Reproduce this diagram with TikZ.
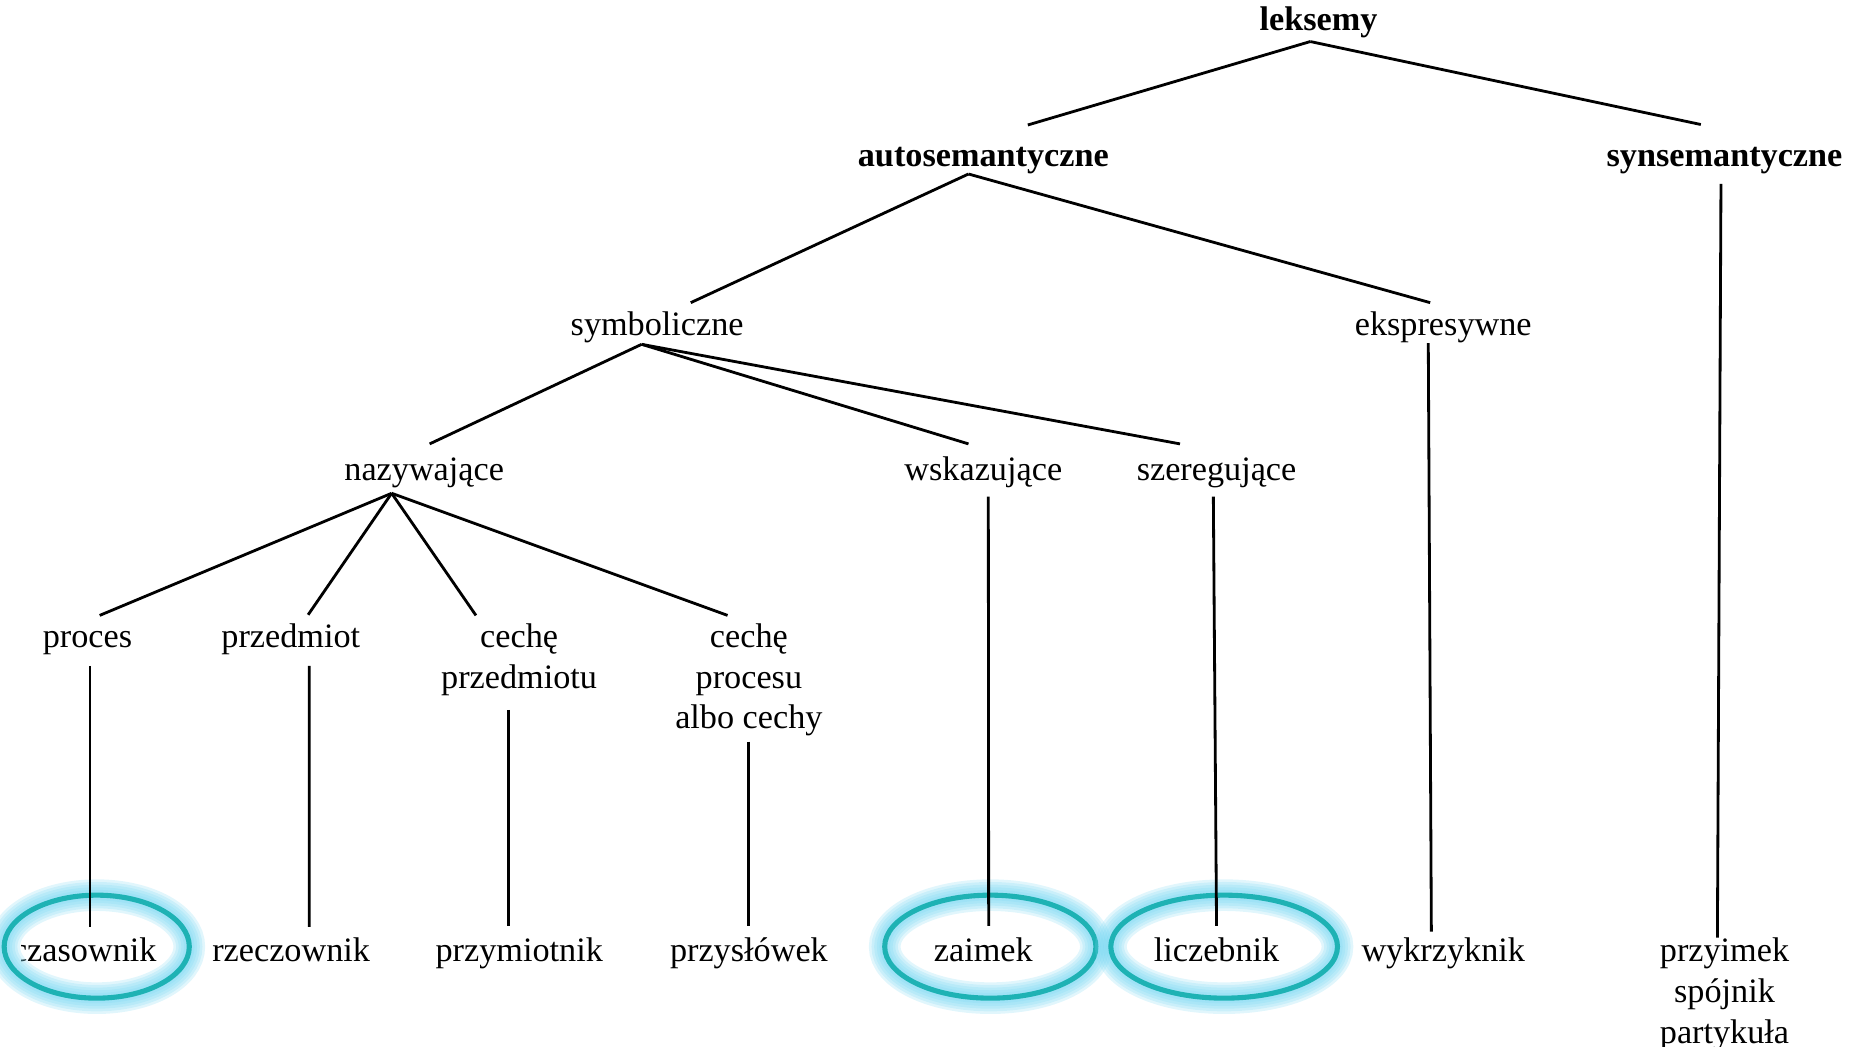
\documentclass[tikz,border=0pt]{standalone}
\usepackage{fontspec}
\setmainfont{Liberation Serif}
\usetikzlibrary{calc}
\definecolor{ringteal}{RGB}{30,178,180}
\definecolor{ringglow}{RGB}{120,215,242}
\tikzset{
  word/.style={anchor=base, inner sep=0pt, align=center, font=\fontsize{9.74}{11.62}\selectfont},
  head/.style={word, font=\fontsize{9.74}{11.62}\selectfont\bfseries},
  branch/.style={line width=0.8pt},
  glow/.style={ringglow, line width=#1, opacity=0.22},
  ring/.style={ringteal, line width=1.45pt}
}
\begin{document}
\begin{tikzpicture}[x=0.011869cm, y=-0.011869cm]
\useasboundingbox (0,0) rectangle (1568,882);
% classes (multi-line nodes sit on their last line)
\node[head] (leksemy) at (1111,25.5) {leksemy};
\node[head] (autosem) at (828.5,140.5) {autosemantyczne};
\node[head] (synsem) at (1453,140.5) {synsemantyczne};
\node[word] (symbol) at (553.7,283) {symboliczne};
\node[word] (ekspres) at (1216,283) {ekspresywne};
\node[word] (nazyw) at (357.4,405) {nazywające};
\node[word] (wskaz) at (828.5,405) {wskazujące};
\node[word] (szereg) at (1025,405) {szeregujące};
\node[word] (proces) at (73.7,545.2) {proces};
\node[word] (przedm) at (245,545.2) {przedmiot};
\node[word] (cechprzedm) at (437.4,579.8) {cechę\\przedmiotu};
\node[word] (cechproc) at (631,614.2) {cechę\\procesu\\albo cechy};
% parts of speech
\begin{scope}
\clip (18,750) rectangle (170,850);
\node[word] (czas) at (71,810) {czasownik};
\end{scope}
\node[word] (rzecz) at (245.3,810) {rzeczownik};
\node[word] (przym) at (437.5,810) {przymiotnik};
\node[word] (przysl) at (631,810) {przysłówek};
\node[word] (zaimek) at (828.5,810) {zaimek};
\node[word] (liczeb) at (1025,810) {liczebnik};
\node[word] (wykrz) at (1216,810) {wykrzyknik};
\node[word] (przyimek) at (1453,878.8) {przyimek\\spójnik\\partykuła};
% rings
\foreach \nd/\dx/\rx in {czas/10.5/78, zaimek/5.9/89, liczeb/6.4/95.5} {
  \foreach \w in {9pt,7.5pt,6pt,4.5pt,3pt}
    \draw[glow=\w] ($(\nd.base)+(\dx,-12.4)$) ellipse [x radius=\rx, y radius=43.4];
  \draw[ring] ($(\nd.base)+(\dx,-12.4)$) ellipse [x radius=\rx, y radius=43.4];
}
% branches
\draw[branch] ($(leksemy.base)+(-7,9.5)$) -- ($(autosem.base)+(37.5,-35.2)$);
\draw[branch] ($(leksemy.base)+(-7,9.5)$) -- ($(synsem.base)+(-20,-35.6)$);
\draw[branch] ($(autosem.base)+(-12.5,6.1)$) -- ($(symbol.base)+(28.3,-28)$);
\draw[branch] ($(autosem.base)+(-12.5,6.1)$) -- ($(ekspres.base)+(-11,-28)$);
\draw[branch] ($(synsem.base)+(-3,14.4)$) -- ($(przyimek.base)+(-6,-88.8)$);
\draw[branch] ($(symbol.base)+(-13.1,7.1)$) -- ($(nazyw.base)+(4.6,-31)$);
\draw[branch] ($(symbol.base)+(-13.1,7.1)$) -- ($(wskaz.base)+(-12.5,-31)$);
\draw[branch] ($(symbol.base)+(-13.1,7.1)$) -- ($(szereg.base)+(-30.8,-31)$);
\draw[branch] ($(ekspres.base)+(-12.6,6)$) -- ($(wykrz.base)+(-10,-25)$);
\draw[branch] ($(nazyw.base)+(-27.4,10.6)$) -- ($(proces.base)+(10.3,-26.7)$);
\draw[branch] ($(nazyw.base)+(-27.4,10.6)$) -- ($(przedm.base)+(14.6,-27.2)$);
\draw[branch] ($(nazyw.base)+(-27.4,10.6)$) -- ($(cechprzedm.base)+(-36.4,-61.3)$);
\draw[branch] ($(nazyw.base)+(-27.4,10.6)$) -- ($(cechproc.base)+(-18,-95.7)$);
\draw[branch] ($(wskaz.base)+(4.2,13.5)$) -- ($(zaimek.base)+(4.5,-30)$);
\draw[branch] ($(szereg.base)+(-2.7,13.5)$) -- ($(liczeb.base)+(0,-30)$);
\draw[branch] ($(proces.base)+(2.1,15.8)$) -- ($(czas.base)+(4.8,-29)$);
\draw[branch] ($(przedm.base)+(15.6,15.8)$) -- ($(rzecz.base)+(15.3,-29)$);
\draw[branch] ($(cechprzedm.base)+(-9.1,18.4)$) -- ($(przym.base)+(-9.2,-29.6)$);
\draw[branch] ($(cechproc.base)+(-0.5,10.7)$) -- ($(przysl.base)+(-0.5,-29.6)$);
\end{tikzpicture}
\end{document}
